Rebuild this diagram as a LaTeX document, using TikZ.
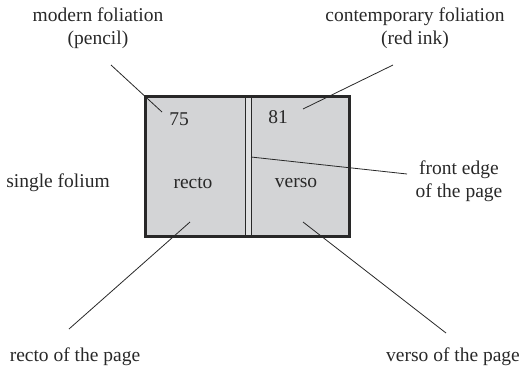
\documentclass[tikz,border=0pt]{standalone}
\usepackage{fontspec}
\setmainfont{Liberation Serif}
\definecolor{pagefill}{RGB}{211,212,214}
\definecolor{stripfill}{RGB}{224,225,226}
\definecolor{ink}{RGB}{40,40,40}
\begin{document}
\begin{tikzpicture}[x=1pt,y=-1pt,
  lbl/.style={font=\fontsize{19.5}{23.5}\selectfont, align=center, inner sep=0pt, text=ink},
  lead/.style={draw=ink, line width=0.8pt},
  pagebox/.style={draw=ink, line width=2pt, fill=pagefill},
  strip/.style={draw=ink, line width=0.8pt, fill=stripfill}]
\useasboundingbox (0,0) rectangle (526,370);
% page
\node[pagebox, minimum width=203pt, minimum height=139pt, inner sep=0pt] (page) at (247.5,166.5) {};
\node[strip, minimum width=6pt, minimum height=138pt, inner sep=0pt] (edge) at (248,166.5) {};
\draw[ink, line width=2pt] (page.north west) rectangle (page.south east);
% texts inside
\node[lbl] (n75) at (179,119) {75};
\node[lbl] (n81) at (278,117) {81};
\node[lbl] (recto) at (193,183) {recto};
\node[lbl] (verso) at (296,183) {verso};
% outer labels
\node[lbl] (modern) at (98,28) {modern foliation\\(pencil)};
\node[lbl] (contemp) at (415,28) {contemporary foliation\\(red ink)};
\node[lbl] (single) at (58,183) {single folium};
\node[lbl] (front) at (459,181) {front edge\\of the page};
\node[lbl] (rectop) at (75,357) {recto of the page};
\node[lbl] (versop) at (453,357) {verso of the page};
% leader ends
\coordinate (m1) at (111,65);
\coordinate (m2) at (162,112);
\coordinate (c1) at (393,65);
\coordinate (c2) at (303,109);
\coordinate (f1) at (251,157);
\coordinate (f2) at (407,174);
\coordinate (r1) at (190,222);
\coordinate (r2) at (69,329);
\coordinate (v1) at (303,222);
\coordinate (v2) at (446,333);
\draw[lead] (m1) -- (m2);
\draw[lead] (c1) -- (c2);
\draw[lead] (f1) -- (f2);
\draw[lead] (r1) -- (r2);
\draw[lead] (v1) -- (v2);
\end{tikzpicture}
\end{document}
